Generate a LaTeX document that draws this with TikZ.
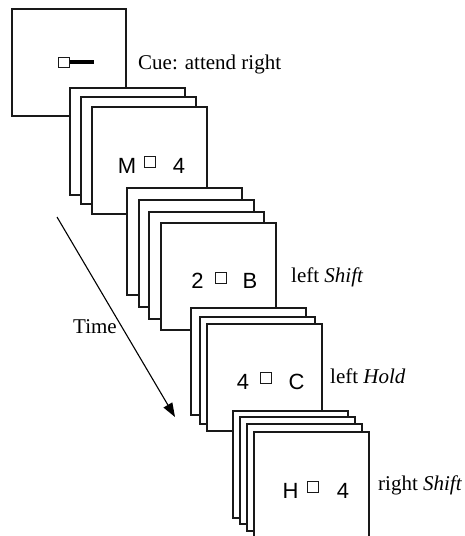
\documentclass[tikz,border=0pt]{standalone}
\usepackage{fontspec}
\setmainfont{Liberation Serif}
\newfontfamily\sansf{Liberation Sans}
\usetikzlibrary{arrows.meta}
\tikzset{
  frame/.style={draw=black!90, line width=1.2pt, fill=white},
  lbl/.style={anchor=base west, inner sep=0pt, font=\fontsize{21}{24}\selectfont},
  glyph/.style={anchor=base, inner sep=0pt, font=\sansf\fontsize{22}{26}\selectfont},
  dot/.style={draw=black!90, line width=1pt, fill=white, inner sep=0pt, minimum size=11pt},
  timearrow/.style={line width=1.1pt, -{Triangle[length=14pt,width=10pt]}},
}
\begin{document}
\begin{tikzpicture}[x=1pt,y=-1pt]
\useasboundingbox (0,0) rectangle (465,536);
\clip (0,0) rectangle (465,536);
% cue screen
\draw[frame] (12,9) rectangle (126,116);
\node[dot, minimum width=11pt, minimum height=10pt] (cuesq) at (63.5,62) {};
\draw[line width=4pt] (cuesq.east) -- ++(24,0);
\node[lbl] (cue) at (138,69) {Cue: attend right};
% group 1
\foreach \x/\y in {70/88, 81/97, 92/107} \draw[frame] (\x,\y) rectangle ++(115,107);
\node[glyph] (m1) at (127,173) {M};
\node[dot] (s1) at (150,161.5) {};
\node[glyph] (n1) at (179,173) {4};
% group 2
\foreach \x/\y in {127/188, 139/200, 149/212, 161/223} \draw[frame] (\x,\y) rectangle ++(115,107);
\node[glyph] (m2) at (197.5,288) {2};
\node[dot] (s2) at (221,277.5) {};
\node[glyph] (n2) at (250,288) {B};
\node[lbl] (l2) at (291,282) {left \textit{Shift}};
% group 3
\foreach \x/\y in {191/308, 200/317, 207/324} \draw[frame] (\x,\y) rectangle ++(115,107);
\node[glyph] (m3) at (243,389) {4};
\node[dot] (s3) at (266,378) {};
\node[glyph] (n3) at (296.5,389) {C};
\node[lbl] (l3) at (330,383) {left \textit{Hold}};
% group 4
\foreach \x/\y in {233/411, 240/417, 247/424, 254/432} \draw[frame] (\x,\y) rectangle ++(115,107);
\node[glyph] (m4) at (290.5,498) {H};
\node[dot] (s4) at (313,486.5) {};
\node[glyph] (n4) at (343,498) {4};
\node[lbl] (l4) at (378,490) {right \textit{Shift}};
% time arrow
\coordinate (ts) at (57,217);
\coordinate (te) at (175,417);
\draw[timearrow] (ts) -- (te);
\node[lbl] (time) at (73,333) {Time};
\end{tikzpicture}
\end{document}
